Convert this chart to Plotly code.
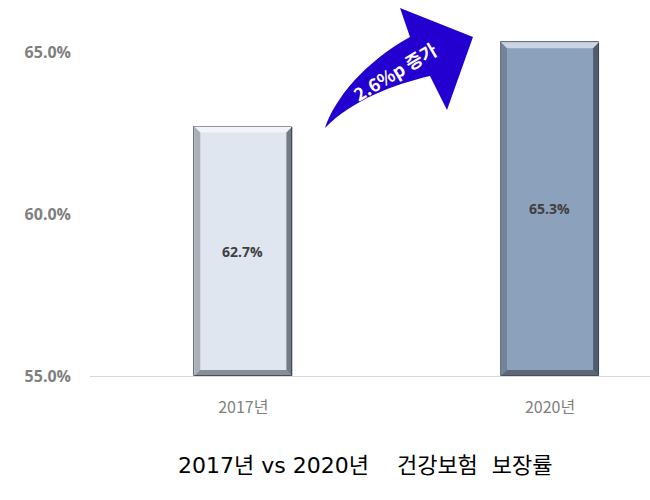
import plotly.graph_objects as go

categories = ["2017년", "2020년"]
values = [62.7, 65.3]
value_labels = ["62.7%", "65.3%"]
bar_colors = ["#dfe6f0", "#8ca1bc"]
y_tickvals = [55, 60, 65]
y_ticktext = ["55.0%", "60.0%", "65.0%"]
title_text = "2017년\u00a0vs\u00a02020년\u00a0\u00a0\u00a0\u00a0건강보험\u00a0\u00a0보장률"
arrow_text = "2.6%p 증가"

W, H = 650, 500
ML, MR, MT, MB = 90, 0, 4, 124
PW, PH = W - ML - MR, H - MT - MB
X_RANGE = [-0.5, 1.326]
Y_MIN = 55
Y_RANGE = [Y_MIN, Y_MIN + PH / 32.4]
BAR_W = 0.32

xs = list(range(len(categories)))

fig = go.Figure()
fig.add_trace(go.Bar(
    x=xs, y=[v - Y_MIN for v in values], base=Y_MIN,
    width=BAR_W,
    marker=dict(color=bar_colors, line=dict(color="#6b7280", width=1)),
    text=value_labels, textposition="inside", insidetextanchor="middle",
    textfont=dict(family="Open Sans", size=14, color="#404040", weight="bold"),
    hoverinfo="skip",
))

# bevel effect shapes derived from data
px_x = PW / (X_RANGE[1] - X_RANGE[0])
px_y = PH / (Y_RANGE[1] - Y_RANGE[0])
dx = 6 / px_x
dy = 6 / px_y
shapes = []
def poly(pts, color):
    d = "M " + " L ".join(f"{a},{b}" for a, b in pts) + " Z"
    return dict(type="path", path=d, xref="x", yref="y", fillcolor=color,
                line=dict(width=0), layer="above")
for i, v in zip(xs, values):
    x0, x1 = i - BAR_W / 2, i + BAR_W / 2
    y0, y1 = Y_MIN, v
    shapes.append(poly([(x0, y1), (x1, y1), (x1 - dx, y1 - dy), (x0 + dx, y1 - dy)], "rgba(255,255,255,0.55)"))
    shapes.append(poly([(x1, y1), (x1, y0), (x1 - dx, y0 + dy), (x1 - dx, y1 - dy)], "rgba(30,35,45,0.55)"))
    shapes.append(poly([(x0, y1), (x0 + dx, y1 - dy), (x0 + dx, y0 + dy), (x0, y0)], "rgba(70,75,85,0.35)"))
    shapes.append(poly([(x0, y0), (x0 + dx, y0 + dy), (x1 - dx, y0 + dy), (x1, y0)], "rgba(30,35,45,0.45)"))

# curved arrow decoration (paper coordinates)
def P(px, py):
    return f"{(px - ML) / PW:.4f},{(MT + PH - py) / PH:.4f}"
arrow_path = (
    f"M {P(325,128)} C {P(335,98)} {P(365,62)} {P(410,37)} "
    f"L {P(400,8)} L {P(473,37)} L {P(447,110)} L {P(430,76)} "
    f"C {P(395,84)} {P(352,100)} {P(325,128)} Z"
)
shapes.append(dict(type="path", path=arrow_path, xref="paper", yref="paper",
                   fillcolor="#2400d0", line=dict(width=0), layer="above"))

fig.update_layout(
    width=W, height=H,
    margin=dict(l=ML, r=MR, t=MT, b=MB),
    paper_bgcolor="white", plot_bgcolor="white",
    showlegend=False,
    shapes=shapes,
    bargap=0,
    xaxis=dict(range=X_RANGE, tickvals=xs, ticktext=categories,
               showgrid=False, zeroline=False, showline=True,
               linecolor="#d9d9d9", linewidth=1, ticks="",
               ticklabelstandoff=17,
               tickfont=dict(family="Noto Sans CJK KR", size=16, color="#7f7f7f")),
    yaxis=dict(range=Y_RANGE, tickvals=y_tickvals, ticktext=y_ticktext,
               showgrid=False, zeroline=False, showline=False, ticks="",
               ticklabelstandoff=18,
               tickfont=dict(family="Open Sans", size=16, color="#7f7f7f", weight="bold")),
    annotations=[
        dict(text=title_text, xref="paper", yref="paper",
             x=(365 - ML) / PW, y=(MT + PH - 465) / PH,
             xanchor="center", yanchor="middle", showarrow=False,
             font=dict(family="DejaVu Sans, Noto Sans CJK KR", size=22, color="black")),
        dict(text=arrow_text, xref="paper", yref="paper",
             x=(395 - ML) / PW, y=(MT + PH - 71) / PH,
             xanchor="center", yanchor="middle", showarrow=False, textangle=-31,
             font=dict(family="Noto Sans CJK KR", size=18, color="white", weight="bold")),
    ],
)

fig.write_html("out.html", config={"displayModeBar": False},
               post_script="document.body.style.margin='0';document.body.style.overflow='hidden';")
